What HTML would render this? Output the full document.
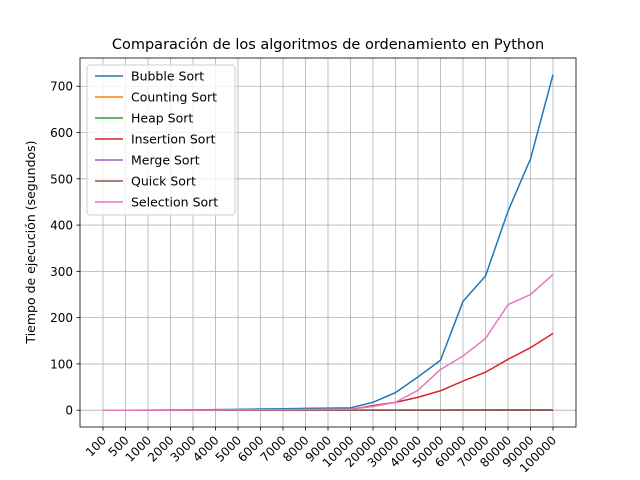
<!DOCTYPE html>
<html><head><meta charset="utf-8"><style>
body{margin:0;background:#fff;}
svg{display:block;font-family:"DejaVu Sans","Liberation Sans",sans-serif;}
</style></head><body>
<svg id="chart" width="640" height="480"></svg>
<script>
const categories=["100","500","1000","2000","3000","4000","5000","6000","7000","8000","9000","10000","20000","30000","40000","50000","60000","70000","80000","90000","100000"];
const seriesNames=["Bubble Sort","Counting Sort","Heap Sort","Insertion Sort","Merge Sort","Quick Sort","Selection Sort"];
const colors=["#1f77b4","#ff7f0e","#2ca02c","#d62728","#9467bd","#8c564b","#e377c2"];
const bubble=[0,0,0.1,0.3,0.7,1.2,1.8,2.5,3.2,4,4.6,5,17,38,72,108,235,290,430,543,725];
const counting=[0,0,0,0,0,0,0,0,0,0,0,0,0,0,0,0,0,0,0,0,0.1];
const heap=[0,0,0,0,0,0,0,0,0,0,0,0,0.1,0.1,0.2,0.2,0.3,0.3,0.4,0.4,0.5];
const insertion=[0,0,0,0.1,0.2,0.3,0.4,0.6,0.8,1,1.3,1.6,10,17,28,42,63,82,110,135,166];
const merge=[0,0,0,0,0,0,0,0,0,0,0,0,0.1,0.1,0.2,0.2,0.3,0.3,0.4,0.4,0.5];
const quick=[0,0,0,0,0,0,0,0,0,0,0,0,0.1,0.1,0.1,0.2,0.2,0.2,0.3,0.3,0.3];
const selection=[0,0,0,0.1,0.3,0.5,0.7,1,1.3,1.6,1.9,2,8,17,43,88,117,155,228,250,293];
const yTicks=[0,100,200,300,400,500,600,700];
const allSeries=[bubble,counting,heap,insertion,merge,quick,selection];

const NS="http://www.w3.org/2000/svg";
const svg=document.getElementById("chart");
const L=80,R=576,T=58,B=427;
const yMin=-36.3,yMax=761;
function xs(i){return 103+i*(553-103)/(categories.length-1);}
function ys(v){return B-(v-yMin)/(yMax-yMin)*(B-T);}
function mk(tag,attrs,parent){const e=document.createElementNS(NS,tag);for(const k in attrs)e.setAttribute(k,attrs[k]);(parent||svg).appendChild(e);return e;}

// grid
categories.forEach((c,i)=>{
  const g=mk("line",{x1:xs(i),x2:xs(i),y1:T,y2:B,stroke:"#b0b0b0","stroke-width":0.8});
  
  
  const t=mk("line",{x1:xs(i),x2:xs(i),y1:B,y2:B+3.5,stroke:"#000","stroke-width":0.8});
  
  
  const x=xs(i)+4,y=B+14;
  const lab=mk("text",{x:x,y:y,"font-size":12,"text-anchor":"end",transform:`rotate(-45 ${x} ${y})`});
  lab.textContent=c;
  
  
});
yTicks.forEach(v=>{
  const g=mk("line",{x1:L,x2:R,y1:ys(v),y2:ys(v),stroke:"#b0b0b0","stroke-width":0.8});
  
  
  const t=mk("line",{x1:L-3.5,x2:L,y1:ys(v),y2:ys(v),stroke:"#000","stroke-width":0.8});
  
  
  const lab=mk("text",{x:L-7,y:ys(v)+4.5,"font-size":12,"text-anchor":"end"});
  lab.textContent=v;
  
  
});
// series
allSeries.forEach((s,k)=>{
  const p=mk("polyline",{points:s.map((v,i)=>xs(i)+","+ys(v)).join(" "),fill:"none",stroke:colors[k],"stroke-width":1.5});
  
  
});
const frame=mk("rect",{x:L,y:T,width:R-L,height:B-T,fill:"none",stroke:"#000","stroke-width":0.8});


// legend
const lg=mk("g",{});


mk("rect",{x:87,y:65,width:148,height:150,rx:3,fill:"#fff","fill-opacity":0.8,stroke:"#ccc","stroke-width":1},lg);
seriesNames.forEach((n,k)=>{
  const y=76+k*21;
  const e=mk("g",{},lg);
  
  
  mk("line",{x1:95,x2:123,y1:y,y2:y,stroke:colors[k],"stroke-width":1.5},e);
  const t=mk("text",{x:131,y:y+4.5,"font-size":12.5},e);
  t.textContent=n;
});
const title=mk("text",{x:328,y:49,"font-size":14.5,"text-anchor":"middle"});
title.textContent="Comparación de los algoritmos de ordenamiento en Python";


const yt=mk("text",{x:35,y:242,"font-size":12.5,"text-anchor":"middle",transform:"rotate(-90 35 242)"});
yt.textContent="Tiempo de ejecución (segundos)";


</script>
</body></html>
